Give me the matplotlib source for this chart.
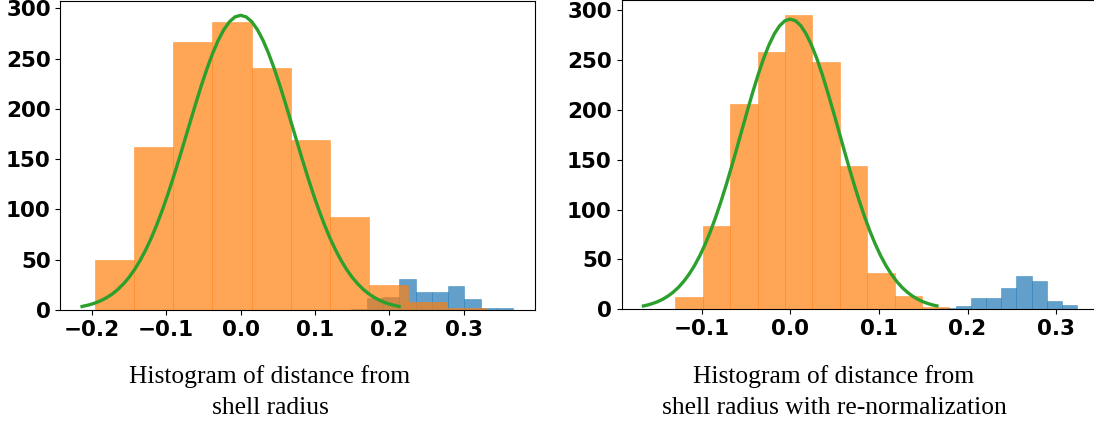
import matplotlib
matplotlib.use("Agg")
import matplotlib.pyplot as plt
import numpy as np

# left panel: distance from shell radius
left_orange_edges = [-0.1953, -0.1428, -0.0903, -0.0378, 0.0147, 0.0672,
                     0.1197, 0.1722, 0.2247, 0.2772, 0.3297]
left_orange_counts = [50, 162, 266, 286, 241, 169, 92, 25, 8, 2]
left_blue_edges = [0.148, 0.1698, 0.1916, 0.2134, 0.2352, 0.257,
                   0.2788, 0.3006, 0.3224, 0.3442, 0.366]
left_blue_counts = [1, 12, 13, 31, 18, 18, 24, 11, 2, 2]
# fitted curve (right half; mirrored for the left)
left_fit_half_x = [0.0, 0.0075, 0.015, 0.0225, 0.03, 0.0375, 0.045, 0.0525,
                   0.06, 0.0675, 0.075, 0.0825, 0.09, 0.0975, 0.105, 0.1125,
                   0.12, 0.1275, 0.135, 0.1425, 0.15, 0.1575, 0.165, 0.1725,
                   0.18, 0.1875, 0.195, 0.2025, 0.213]
left_fit_half_y = [293.0, 291.4, 286.6, 278.8, 268.3, 255.3, 240.3, 223.8,
                   206.0, 187.6, 169.0, 150.6, 132.7, 115.6, 99.7, 85.0,
                   71.6, 59.8, 49.3, 40.2, 32.4, 25.9, 20.4, 15.9,
                   12.3, 9.4, 7.1, 5.3, 3.5]

# right panel: with re-normalization
right_orange_edges = [-0.1295, -0.0986, -0.0677, -0.0368, -0.0059, 0.0250,
                      0.0559, 0.0868, 0.1177, 0.1486, 0.1795]
right_orange_counts = [12, 84, 206, 258, 295, 248, 144, 36, 13, 2]
right_blue_edges = [0.1694, 0.1866, 0.2037, 0.2209, 0.2380, 0.2552,
                    0.2723, 0.2895, 0.3066, 0.3238]
right_blue_counts = [1, 3, 11, 11, 21, 33, 28, 8, 4]
right_fit_half_x = [0.0, 0.006, 0.012, 0.018, 0.024, 0.03, 0.036, 0.042,
                    0.048, 0.054, 0.06, 0.066, 0.072, 0.078, 0.084, 0.09,
                    0.096, 0.102, 0.108, 0.114, 0.12, 0.126, 0.132, 0.138,
                    0.144, 0.15, 0.156, 0.161, 0.1655]
right_fit_half_y = [291.0, 289.3, 284.3, 276.1, 265.0, 251.5, 235.8, 218.5,
                    200.2, 181.3, 162.2, 143.5, 125.4, 108.4, 92.6, 78.1,
                    65.2, 53.7, 43.8, 35.3, 28.1, 22.1, 17.2, 13.2,
                    10.0, 7.5, 5.6, 4.3, 3.4]

left_xticks = [-0.2, -0.1, 0.0, 0.1, 0.2, 0.3]
right_xticks = [-0.1, 0.0, 0.1, 0.2, 0.3]
yticks = [0, 50, 100, 150, 200, 250, 300]

captions = [
    ["Histogram of distance from", "shell radius"],
    ["Histogram of distance from", "shell radius with re-normalization"],
]


def draw_hist(ax, edges, counts, color):
    edges = np.asarray(edges)
    ax.bar(edges[:-1], counts, width=np.diff(edges), align="edge",
           color=color, alpha=0.7, edgecolor=color, linewidth=0.4)


def mirrored(half_x, half_y):
    xs = [-v for v in half_x[:0:-1]] + list(half_x)
    ys = list(half_y[:0:-1]) + list(half_y)
    return xs, ys


def tick_text(v):
    s = f"{v:.1f}"
    return s.replace("-", "\u2212")


fig = plt.figure(figsize=(10.94, 4.26), dpi=100)
ax1 = fig.add_axes([0.0553, 0.2723, 0.4337, 0.7260])
ax2 = fig.add_axes([0.5681, 0.2739, 0.4369, 0.7250])

panels = [
    (ax1, left_blue_edges, left_blue_counts, left_orange_edges,
     left_orange_counts, left_fit_half_x, left_fit_half_y,
     (-0.242, 0.3955), 307.5, left_xticks),
    (ax2, right_blue_edges, right_blue_counts, right_orange_edges,
     right_orange_counts, right_fit_half_x, right_fit_half_y,
     (-0.1903, 0.3488), 309.7, right_xticks),
]

for ax, be, bc, oe, oc, hx, hy, xlim, ytop, xt in panels:
    draw_hist(ax, be, bc, "#1f77b4")
    draw_hist(ax, oe, oc, "#ff7f0e")
    fx, fy = mirrored(hx, hy)
    ax.plot(fx, fy, color="#2ca02c", linewidth=2.4)
    ax.set_xlim(*xlim)
    ax.set_ylim(0, ytop)
    ax.set_xticks(xt)
    ax.set_xticklabels([tick_text(v) for v in xt])
    ax.set_yticks(yticks)
    for lab in ax.get_xticklabels() + ax.get_yticklabels():
        lab.set_fontsize(15.5)
        lab.set_fontweight("bold")

for cx, lines in zip([0.2468, 0.7623], captions):
    fig.text(cx, 0.0998, lines[0], ha="center", va="baseline",
             family="Liberation Serif", fontsize=18.4)
    fig.text(cx, 0.0282, lines[1], ha="center", va="baseline",
             family="Liberation Serif", fontsize=18.4)

fig.savefig("out.png", dpi=100)
